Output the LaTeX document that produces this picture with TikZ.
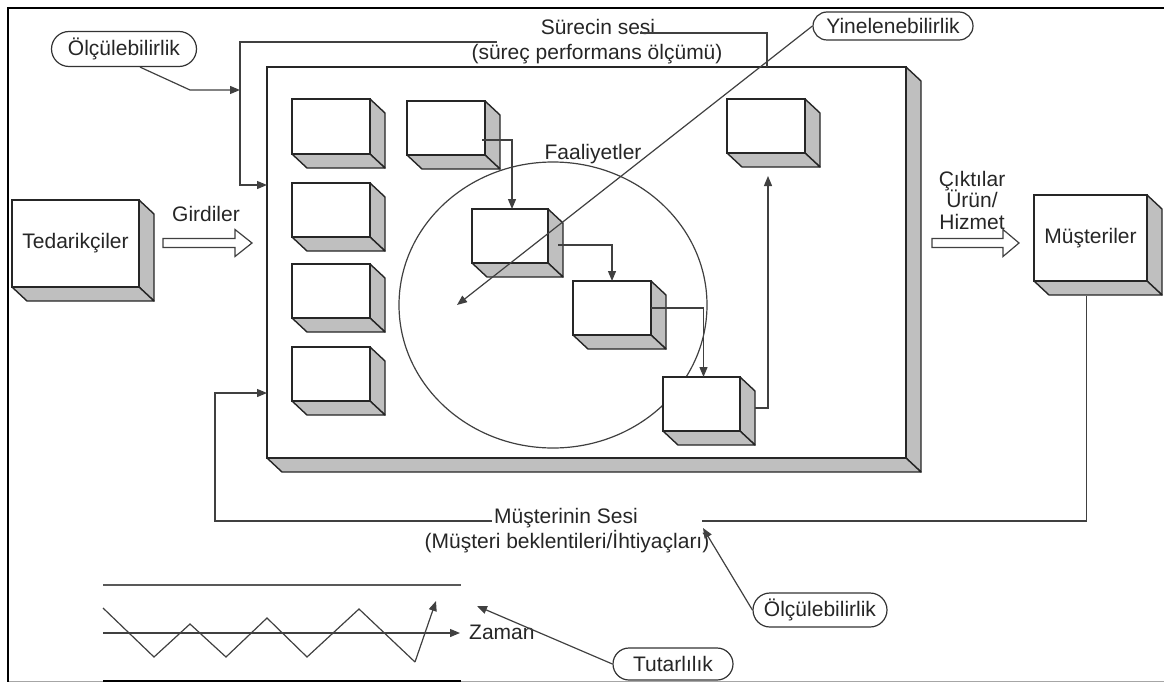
\documentclass[tikz,border=0pt]{standalone}
\usepackage{fontspec}
\setmainfont{Liberation Sans}
\usetikzlibrary{arrows.meta,calc,shapes.misc}

% 3D block: front face as a named node, right and bottom faces shaded
% #1 name, #2 left, #3 top, #4 width, #5 height, #6 text
\newcommand\solidbox[6]{%
  \draw[sideface] ({#2+#4},#3) -- ++(15,14) -- ++(0,#5) -- ({#2+#4},{#3+#5}) -- cycle;
  \draw[sideface] (#2,{#3+#5}) -- ++(#4,0) -- ++(15,14) -- ++(-#4,0) -- cycle;
  \node[frontface, minimum width=#4pt, minimum height=#5pt, anchor=north west] (#1) at (#2,#3) {#6};
}
% hollow block arrow: #1 start x, #2 head start x, #3 tip x, #4 centre y
\newcommand\blockarrow[4]{%
  \draw[hollow] (#1,{#4-4.5}) -- (#2,{#4-4.5}) -- (#2,{#4-13.5}) -- (#3,#4)
    -- (#2,{#4+13.5}) -- (#2,{#4+4.5}) -- (#1,{#4+4.5}) -- cycle;
}

\begin{document}
\begin{tikzpicture}[x=1pt,y=-1pt,
  every node/.style={font=\fontsize{21}{25}\selectfont, text=black!85},
  frontface/.style={draw=black!85, line width=1.4pt, fill=white, inner sep=0pt, outer sep=0pt},
  sideface/.style={draw=black!85, line width=1.4pt, fill=black!25, line join=round},
  conn/.style={draw=black!75, line width=1.2pt},
  arr/.style={conn, -{Triangle[length=10pt,width=8pt]}},
  tag/.style={rounded rectangle, draw=black!80, line width=1.2pt, fill=white, inner sep=0pt},
  hollow/.style={draw=black!75, line width=1.2pt, fill=white, line join=miter}
]
\useasboundingbox (0,0) rectangle (1164,682);

% page frame
\draw[black!35, line width=0.8pt] (8,681.5) -- (1164,681.5);
\draw[black, line width=2.8pt] (8,684) -- (8,8) -- (1166,8);

% process block
\solidbox{mb}{267}{67}{639}{391}{}

% activity area
\draw[conn] (553,305) ellipse [x radius=154, y radius=143];
\node[anchor=base] (faal) at (593,160) {Faaliyetler};

% left column of blocks
\solidbox{l1}{292}{99}{78}{55}{}
\solidbox{l2}{292}{183}{78}{54}{}
\solidbox{l3}{292}{264}{78}{54}{}
\solidbox{l4}{292}{347}{78}{54}{}

% activity chain
\solidbox{t2}{407}{101}{78}{54}{}
\solidbox{a}{472}{209}{76}{54}{}
\solidbox{b}{573}{281}{78}{54}{}
\solidbox{c}{663}{377}{77}{54}{}
\solidbox{d}{727}{99}{78}{54}{}

\draw[arr] (t2.east) ++(-3,12) -| ([xshift=2pt]a.north);
\draw[arr] (a.east) ++(10,9) -| (b.north);
\draw[arr] (b.east) -| ([xshift=2pt]c.north);
\draw[arr] (c.east) ++(15,4) -| ($(d.south)+(2,23)$);

% supplier and customer
\solidbox{ted}{12}{200}{127}{87}{Tedarikçiler}
\solidbox{mus}{1034}{195}{113}{86}{Müşteriler}

\node[anchor=base] (gir) at (206,221) {Girdiler};
\blockarrow{163}{235}{252}{243}
\node[anchor=base] (cik1) at (972,186) {Çıktılar};
\node[anchor=base] (cik2) at (972,207) {Ürün/};
\node[anchor=base] (cik3) at (972,229) {Hizmet};
\blockarrow{932}{1003}{1019}{243}

% voice of the process
\node[anchor=base] (ses1) at (598,35) {Sürecin sesi};
\node[anchor=base] (ses2) at (597,60) {(süreç performans ölçümü)};
\coordinate (sv1) at (767,67);
\coordinate (sv2) at (640,33);
\coordinate (sv3) at (497,42);
\coordinate (sv4) at (240,185);
\draw[conn] (sv1) |- (sv2);
\draw[arr] (sv3) -| (sv4) -- (mb.west |- sv4);

% measurability (top)
\node[tag, minimum width=145pt, minimum height=35pt] (olc1) at (124,49) {Ölçülebilirlik};
\coordinate (oc1) at (190,90);
\coordinate (oc2) at (240,90);
\draw[arr] ($(olc1.south)+(16,0)$) -- (oc1) -- (oc2);

% repeatability
\node[tag, minimum width=160pt, minimum height=28pt] (yin) at (893,26) {Yinelenebilirlik};
\coordinate (yend) at (457,305);
\draw[arr] (yin.west) -- (yend);

% voice of the customer
\node[anchor=base] (mv1) at (566,523) {Müşterinin Sesi};
\node[anchor=base] (mv2) at (567,548) {(Müşteri beklentileri/İhtiyaçları)};
\coordinate (msR) at (702,521);
\coordinate (msL) at (492,521);
\coordinate (fb) at (215,393);
\draw[conn] ($(mus.south)+(-4,15)$) |- (msR);
\draw[arr] (msL) -| (fb) -- (mb.west |- fb);

% measurability (bottom)
\node[tag, minimum width=134pt, minimum height=34pt] (olc2) at (820,610) {Ölçülebilirlik};
\coordinate (o2end) at (703,528);
\draw[arr] (olc2.west) -- (o2end);

% consistency chart
\draw[conn, black!65] (103,585) -- (461,585);
\draw[black, line width=2.5pt] (103,681.5) -- (461,681.5);
\coordinate (ax0) at (103,633);
\coordinate (ax1) at (460,633);
\draw[arr] (ax0) -- (ax1);
\node[anchor=base west, inner sep=0pt] (zam) at (469,639) {Zaman};
\draw[conn] (103,608) -- (154,657) -- (190,624) -- (226,657) -- (267,618)
  -- (307,657) -- (359,609) -- (415,662);
\draw[arr] (415,662) -- (436,601);

\node[tag, minimum width=120pt, minimum height=32pt] (tut) at (673,664) {Tutarlılık};
\coordinate (tend) at (477,606);
\draw[arr] (tut.west) -- (tend);

\end{tikzpicture}
\end{document}
